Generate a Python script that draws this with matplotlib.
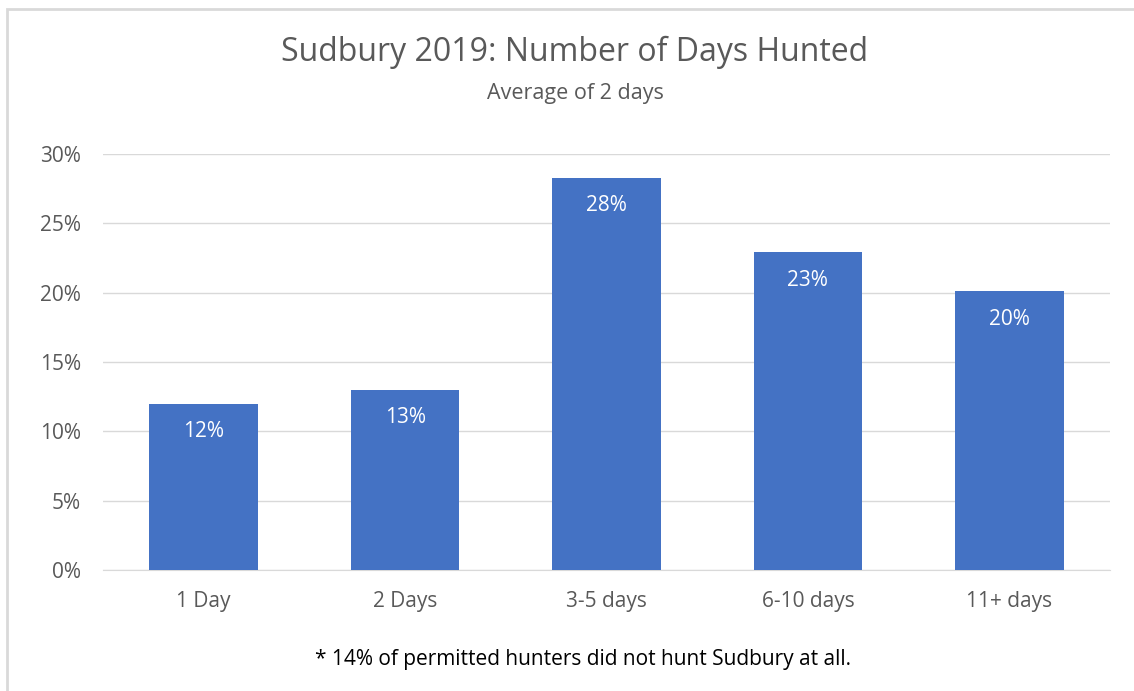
import matplotlib.pyplot as plt
from matplotlib.patches import Rectangle

categories = ['1 Day', '2 Days', '3-5 days', '6-10 days', '11+ days']
values = [0.12, 0.13, 0.283, 0.229, 0.201]
labels = ['12%', '13%', '28%', '23%', '20%']
yticks = [0, 0.05, 0.10, 0.15, 0.20, 0.25, 0.30]

plt.rcParams['font.family'] = ['Open Sans', 'DejaVu Sans']

fig = plt.figure(figsize=(11.34, 6.91), dpi=100)
ax = fig.add_axes([103/1134, 1-570/691, 1007/1134, 416/691])

# chart border (cropped Excel frame)
fig.patches.append(Rectangle((7/1134, -0.05), 1.1, 1 - 9/691 + 0.05, transform=fig.transFigure,
                             fill=False, edgecolor='#d9d9d9', linewidth=2))

x = range(len(categories))
bars = ax.bar(x, values, width=0.54, color='#4472c4', zorder=3)
for b, lab in zip(bars, labels):
    ax.text(b.get_x() + b.get_width()/2, b.get_height() - 0.02, lab,
            ha='center', va='center', color='white', fontsize=15)

ax.set_xlim(-0.5, len(categories) - 0.5)
ax.set_ylim(0, 0.30)
ax.set_yticks(yticks)
ax.set_yticklabels([f'{int(round(t*100))}%' for t in yticks])
ax.set_xticks(list(x))
ax.set_xticklabels(categories)
ax.tick_params(length=0, labelsize=15, labelcolor='#595959')
ax.tick_params(axis='x', pad=15)
ax.tick_params(axis='y', pad=16)
ax.grid(axis='y', color='#d9d9d9', linewidth=1, zorder=0)
for s in ax.spines.values():
    s.set_visible(False)
ax.spines['bottom'].set_visible(True)
ax.spines['bottom'].set_color('#d9d9d9')

fig.text(575/1134, 1-52/691, 'Sudbury 2019: Number of Days Hunted', ha='center', va='center',
         fontsize=23, color='#595959')
fig.text(575/1134, 1-93/691, 'Average of 2 days', ha='center', va='center',
         fontsize=15.5, color='#595959')
fig.text(583/1134, 1-660/691, '* 14% of permitted hunters did not hunt Sudbury at all.',
         ha='center', va='center', fontsize=15, color='black')

fig.savefig('out.png', dpi=100)
